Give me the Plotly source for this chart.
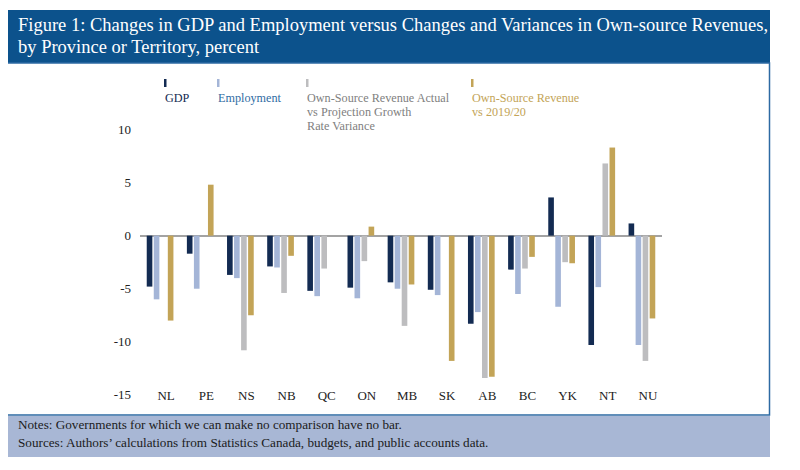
import plotly.graph_objects as go

# provinces / territories
provinces = ["NL", "PE", "NS", "NB", "QC", "ON", "MB", "SK", "AB", "BC", "YK", "NT", "NU"]

# percent changes, None = no comparison possible
gdp = [-4.8, -1.7, -3.7, -2.9, -5.2, -4.9, -4.4, -5.1, -8.3, -3.2, 3.6, -10.3, 1.15]
employment = [-6.0, -5.0, -4.0, -3.0, -5.7, -5.9, -5.0, -5.6, -7.2, -5.5, -6.7, -4.85, -10.3]
osr_variance = [None, None, -10.8, -5.4, -3.1, -2.4, -8.5, None, -13.4, -3.1, -2.5, 6.8, -11.8]
osr_vs_2019 = [-8.0, 4.8, -7.5, -1.9, None, 0.85, -4.6, -11.8, -13.3, -2.0, -2.6, 8.3, -7.8]

y_ticks = [10, 5, 0, -5, -10, -15]

NAVY = "#132b52"
LIGHT_BLUE = "#a4b5d7"
GREY = "#bdbdbf"
GOLD = "#c3a457"
SERIF = "Liberation Serif, Times New Roman, serif"

# page has an 8px body margin, so the figure is a bit smaller than the window
PAGE_OFF = 8
W, H = 792, 462
L, R, T, B = 132, 138, 113, 73


def xp(px):
    # page pixel -> paper x
    return (px - PAGE_OFF - L) / (W - L - R)


def yp(py):
    # page pixel -> paper y
    return (H - B - (py - PAGE_OFF)) / (H - T - B)


fig = go.Figure()
series = [
    ("GDP", gdp, NAVY),
    ("Employment", employment, LIGHT_BLUE),
    ("Own-Source Revenue Actual vs Projection Growth Rate Variance", osr_variance, GREY),
    ("Own-Source Revenue vs 2019/20", osr_vs_2019, GOLD),
]
for name, vals, col in series:
    fig.add_trace(go.Bar(x=provinces, y=vals, name=name, marker_color=col,
                         marker_line_width=0, showlegend=False))

shapes = [
    # title banner
    dict(type="rect", xref="paper", yref="paper", x0=xp(4), x1=xp(770), y0=yp(63), y1=yp(10),
         fillcolor="#0c528c", line_width=0, layer="below"),
    # chart box
    dict(type="rect", xref="paper", yref="paper", x0=xp(4.5), x1=xp(769.5), y0=yp(415), y1=yp(63),
         fillcolor="white", line=dict(color="#2d6aa3", width=1.5), layer="below"),
    # notes band
    dict(type="rect", xref="paper", yref="paper", x0=xp(4), x1=xp(770), y0=yp(457), y1=yp(416),
         fillcolor="#a8b7d5", line_width=0, layer="below"),
]

annotations = [
    dict(text="Figure 1: Changes in GDP and Employment versus Changes and Variances in Own-source Revenues,",
         x=xp(16), y=yp(25), xanchor="left", yanchor="middle"),
    dict(text="by Province or Territory, percent", x=xp(16), y=yp(47), xanchor="left", yanchor="middle"),
]
for a in annotations:
    a.update(xref="paper", yref="paper", showarrow=False, font=dict(family=SERIF, size=18.5, color="white"))

# legend drawn by hand: small tick above coloured label
legend_items = [
    (163, ["GDP"], NAVY, NAVY),
    (216, ["Employment"], LIGHT_BLUE, "#2f6ca3"),
    (305, ["Own-Source Revenue Actual", "vs Projection Growth", "Rate Variance"], GREY, "#808080"),
    (470, ["Own-Source Revenue", "vs 2019/20"], GOLD, GOLD),
]
for x0, lines, mcol, tcol in legend_items:
    shapes.append(dict(type="rect", xref="paper", yref="paper", x0=xp(x0 + 1), x1=xp(x0 + 3.5),
                       y0=yp(87), y1=yp(79), fillcolor=mcol, line_width=0))
    for i, ln in enumerate(lines):
        annotations.append(dict(text=ln, xref="paper", yref="paper", x=xp(x0), y=yp(98 + 14 * i),
                                xanchor="left", yanchor="middle", showarrow=False,
                                font=dict(family=SERIF, size=12.2, color=tcol)))

notes = [
    "Notes: Governments for which we can make no comparison have no bar.",
    "Sources: Authors’ calculations from Statistics Canada, budgets, and public accounts data.",
]
for i, ln in enumerate(notes):
    annotations.append(dict(text=ln, xref="paper", yref="paper", x=xp(16), y=yp(424 + 18 * i),
                            xanchor="left", yanchor="middle", showarrow=False,
                            font=dict(family=SERIF, size=13.2, color="#1b1b1b")))

fig.update_layout(
    width=W, height=H,
    margin=dict(l=L, r=R, t=T, b=B),
    paper_bgcolor="white", plot_bgcolor="rgba(0,0,0,0)",
    barmode="group", bargap=0.3, bargroupgap=0.2,
    font=dict(family=SERIF, size=13, color="#222222"),
    shapes=shapes, annotations=annotations,
    xaxis=dict(showgrid=False, showline=False, ticks="", ticklabelstandoff=-11,
               ticklabelshift=6, tickfont=dict(size=13, color="#222222")),
    yaxis=dict(range=[-15.2, 10.8], tickvals=y_ticks, ticktext=[str(v) for v in y_ticks],
               showgrid=False, zeroline=True, zerolinecolor="#a3a3a3", zerolinewidth=1.5,
               showline=False, ticks="", ticklabelstandoff=8, tickfont=dict(size=13, color="#222222")),
)

fig.write_html("out.html")
